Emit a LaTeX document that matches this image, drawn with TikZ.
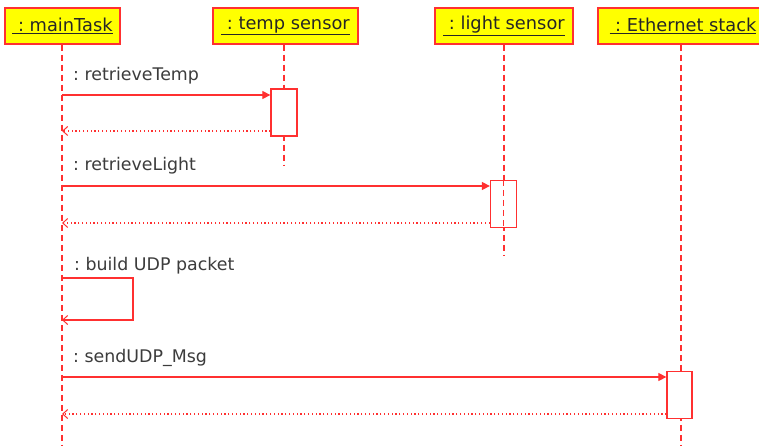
\documentclass[tikz,border=0pt]{standalone}
\usepackage{fontspec}
\setmainfont{DejaVu Sans}
\usetikzlibrary{arrows.meta}
\definecolor{umlred}{HTML}{FF3030}
\definecolor{umlyellow}{HTML}{FFFF00}
\definecolor{msgtext}{HTML}{3C3C3C}
\frenchspacing
\begin{document}
\begin{tikzpicture}[x=1pt,y=-1pt,
  obj/.style={draw=umlred, fill=umlyellow, line width=1.5pt, minimum height=36pt, inner sep=0pt, text=black!85, font=\fontsize{17.8}{20}\selectfont},
  lifeline/.style={draw=umlred, dash pattern=on 6pt off 4pt, line width=1.3pt},
  actbox/.style={draw=umlred, fill=white, line width=1.3pt, minimum width=25pt, minimum height=47pt, inner sep=0pt},
  call/.style={draw=umlred, line width=1.2pt, -{Triangle[length=8pt,width=8pt]}},
  ret/.style={draw=umlred, line width=1.2pt, dash pattern=on 1.2pt off 2.6pt, -{Straight Barb[length=5pt,width=9pt,line width=1pt]}},
  selfmsg/.style={draw=umlred, line width=1.2pt, -{Straight Barb[length=5pt,width=9pt,line width=1pt]}},
  msglabel/.style={anchor=base west, inner sep=0pt, text=msgtext, font=\fontsize{17.4}{20}\selectfont}
]
\useasboundingbox (0,0) rectangle (759,446);
\fill[white] (0,0) rectangle (759,446);

% objects
\node[obj, minimum width=115pt] (mt) at (62.5,26) {\underline{\ : mainTask}};
\node[obj, minimum width=145pt] (ts) at (285.5,26) {\underline{\ : temp sensor}};
\node[obj, minimum width=138pt] (ls) at (504,26) {\underline{\ : light sensor}};
\node[obj, minimum width=170pt] (es) at (683,26) {\underline{\ : Ethernet stack}};

% lifeline ends
\coordinate (mtEnd) at (62,446);
\coordinate (tsEnd) at (284,165);
\coordinate (lsEnd) at (504,255);
\coordinate (esEnd) at (681,446);

\draw[lifeline] (mt.south -| 62,0) -- (mtEnd);
\draw[lifeline] (ts.south -| 284,0) -- (tsEnd);
\draw[lifeline] (ls.south -| 504,0) -- (lsEnd);
\draw[lifeline] (es.south -| 681,0) -- (esEnd);

% activation boxes
\node[actbox, minimum width=26pt] (a1) at (284,112.5) {};
\node[actbox, minimum width=26pt] (a2) at (503.5,204) {};
\node[actbox, minimum width=25pt] (a3) at (679.5,395) {};
\draw[lifeline] (503.5,180) -- (503.5,228);

% message anchors on main lifeline
\coordinate (m1) at (62,95);
\coordinate (r1) at (62,131);
\coordinate (m2) at (62,186);
\coordinate (r2) at (62,223);
\coordinate (s1) at (62,278);
\coordinate (s2) at (133,278);
\coordinate (s3) at (133,320);
\coordinate (s4) at (62,320);
\coordinate (m3) at (62,377);
\coordinate (r3) at (62,414);

\draw[call] (m1) -- (m1 -| a1.west);
\draw[ret] (r1 -| a1.west) -- (r1);
\draw[call] (m2) -- (m2 -| a2.west);
\draw[ret] (r2 -| a2.west) -- (r2);
\draw[selfmsg] (s1) -- (s2) -- (s3) -- (s4);
\draw[call] (m3) -- (m3 -| a3.west);
\draw[ret] (r3 -| a3.west) -- (r3);

% labels
\node[msglabel] (l1) at (73,81) {: retrieveTemp};
\node[msglabel] (l2) at (73,171) {: retrieveLight};
\node[msglabel] (l3) at (74,270) {: build UDP packet};
\node[msglabel] (l4) at (73,362) {: sendUDP\_Msg};
\end{tikzpicture}
\end{document}
